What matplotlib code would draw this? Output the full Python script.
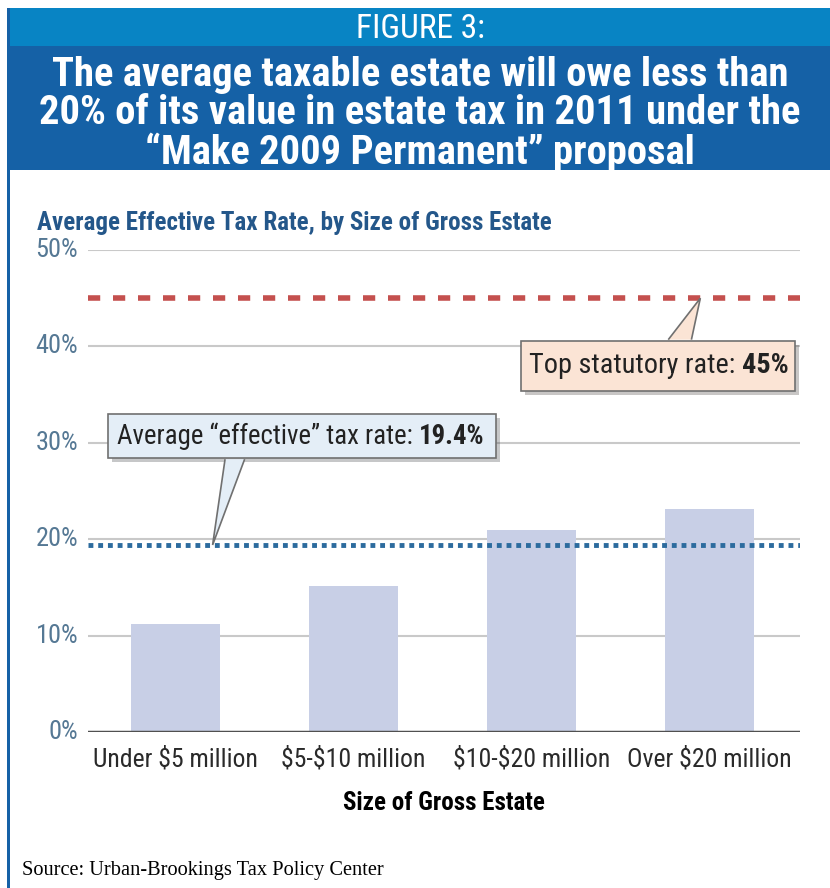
import matplotlib.pyplot as plt
from matplotlib.patches import Rectangle, Polygon
import matplotlib.patheffects as pe

# data
categories = ['Under \\$5 million', '\\$5-\\$10 million', '\\$10-\\$20 million', 'Over \\$20 million']
rates = [11.2, 15.1, 21.0, 23.1]
top_rate = 45
avg_rate = 19.4
yticks = [0, 10, 20, 30, 40, 50]
ytick_labels = ['0%', '10%', '20%', '30%', '40%', '50%']

FONT = ['Roboto Condensed', 'DejaVu Sans']
plt.rcParams['font.family'] = FONT
plt.rcParams['font.stretch'] = 'condensed'

W, H = 830, 888
fig = plt.figure(figsize=(W / 100, H / 100), dpi=100)

def fx(px):
    return px / W

def fy(py):
    return 1 - py / H

# header bands
fig.patches.append(Rectangle((fx(8), fy(46)), fx(822), fy(8) - fy(46),
                             transform=fig.transFigure, fc='#0884c4', ec='none'))
fig.patches.append(Rectangle((fx(8), fy(170)), fx(822), fy(46) - fy(170),
                             transform=fig.transFigure, fc='#1561a6', ec='none'))
fig.patches.append(Rectangle((fx(7), 0), fx(2.5), fy(8),
                             transform=fig.transFigure, fc='#1561a6', ec='none'))

fig.text(fx(420), fy(29), 'FIGURE 3:', color='white', fontsize=24,
         ha='center', va='center')
title = fig.text(fx(420), fy(114),
                 'The average taxable estate will owe less than\n'
                 '20% of its value in estate tax in 2011 under the\n'
                 '\u201cMake 2009 Permanent\u201d proposal',
                 color='white', fontsize=30, fontweight='bold', ha='center',
                 va='center', linespacing=1.02)

fig.text(fx(37), fy(223), 'Average Effective Tax Rate, by Size of Gross Estate',
         color='#24578a', fontsize=18, fontweight='bold', ha='left', va='center')

# axes
ax = fig.add_axes([fx(88), fy(732), fx(800) - fx(88), fy(250) - fy(732)])
x = list(range(len(categories)))
ax.set_xlim(-0.49, 3.51)
ax.set_ylim(0, 50)

for t in yticks[1:]:
    ax.axhline(t, color='#c9c9c9', lw=1.5, zorder=1)
ax.bar(x, rates, width=0.5, color='#c8cfe6', zorder=2)
ax.axhline(0, color='#505050', lw=2.5, zorder=3)

ax.axhline(top_rate, color='#c4504e', lw=4, dashes=(2.2, 2.3), zorder=3)
ax.axhline(avg_rate, color='#2c6b9e', lw=3.5, dashes=(1, 1), zorder=3)

for s in ax.spines.values():
    s.set_visible(False)
ax.set_yticks(yticks)
ax.set_yticklabels(ytick_labels, color='#557894', fontsize=19)
ax.tick_params(axis='y', length=0, pad=7)
ax.set_xticks(x)
ax.set_xticklabels(categories, fontsize=18.5, color='#2a2a2a')
ax.tick_params(axis='x', length=0, pad=11)
ax.set_xlabel('Size of Gross Estate', fontsize=18, fontweight='bold', labelpad=14)
for lab in ax.get_yticklabels():
    lab.set_va('center')


def callout(x0, x1, y0, y1, base, tip, fc, normal, bold, size):
    shadow = [pe.SimplePatchShadow(offset=(3, -3), alpha=0.3), pe.Normal()]
    box = Rectangle((x0, y0), x1 - x0, y1 - y0, fc=fc, ec='#707070', lw=1.2,
                    zorder=5)
    box.set_path_effects(shadow)
    ax.add_patch(box)
    ax.add_patch(Polygon([base[0], tip, base[1]], closed=False, fc=fc,
                         ec='#707070', lw=1.2, zorder=6))
    t1 = ax.text(x0 + 0.05, (y0 + y1) / 2, normal, fontsize=size, color='#222222',
                 ha='left', va='center', zorder=7)
    ax.annotate(bold, xy=(1, 0), xycoords=t1, ha='left', va='bottom',
                fontsize=size, fontweight='bold', color='#222222', zorder=7)


callout(1.94, 3.48, 35.4, 40.6, [(2.77, 40.7), (2.9, 40.7)], (2.95, top_rate),
        '#fbe4d5', 'Top statutory rate: ', '45%', 20.3)
callout(-0.376, 1.80, 28.4, 33.0, [(0.28, 28.3), (0.39, 28.3)], (0.21, avg_rate),
        '#e4eef7', 'Average \u201ceffective\u201d tax rate: ', '19.4%', 19.4)

fig.text(fx(22), fy(870), 'Source: Urban-Brookings Tax Policy Center',
         family=['Liberation Serif', 'DejaVu Serif'], fontstretch='normal',
         fontsize=14.7, ha='left', va='center')

# shrink the headline so its widest line fits the band
r = fig.canvas.get_renderer()
while title.get_window_extent(r).width > 765 and title.get_fontsize() > 10:
    title.set_fontsize(title.get_fontsize() - 0.25)

fig.savefig('out.png', dpi=100, facecolor='white')
